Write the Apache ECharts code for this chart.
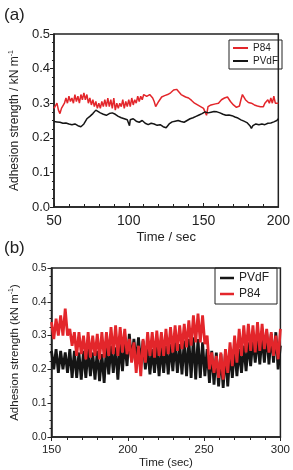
<!DOCTYPE html>
<html><head><meta charset="utf-8">
<script src="https://cdn.jsdelivr.net/npm/echarts@6/dist/echarts.min.js"></script>
<style>html,body{margin:0;padding:0;background:#fff}#c{width:293px;height:470px}</style>
</head><body><div id="c"></div>
<script>
// ---- Panel (a): time (s) and adhesion strength (kN/m) ----
var p84A = [[50,0.285],[51,0.29],[52,0.30],[53,0.28],[54,0.27],[55,0.285],[56,0.28],[57,0.30],[58,0.315],[59,0.30],
[60,0.32],[61,0.305],[62,0.315],[63,0.30],[64,0.325],[65,0.305],[66,0.32],[67,0.30],[68,0.325],[69,0.31],
[70,0.33],[71,0.31],[72,0.325],[73,0.30],[74,0.315],[75,0.295],[76,0.31],[77,0.29],[78,0.305],[79,0.285],
[80,0.30],[81,0.285],[82,0.305],[83,0.29],[84,0.31],[85,0.29],[86,0.315],[87,0.29],[88,0.31],[89,0.285],
[90,0.315],[91,0.28],[92,0.30],[93,0.285],[94,0.30],[95,0.29],[96,0.31],[97,0.285],[98,0.305],[99,0.29],
[100,0.31],[101,0.29],[102,0.315],[103,0.295],[104,0.31],[105,0.30],[106,0.32],[107,0.305],[108,0.32],[109,0.31],
[110,0.325],[112,0.32],[114,0.325],[116,0.315],[117,0.305],[118,0.29],[119,0.292],[120,0.305],[122,0.318],[124,0.322],
[126,0.325],[128,0.33],[130,0.338],[132,0.34],[133,0.335],[135,0.325],[136,0.33],[138,0.318],[140,0.315],[142,0.308],
[144,0.30],[146,0.295],[148,0.29],[150,0.285],[151,0.275],[152,0.265],[153,0.29],[155,0.295],[158,0.298],[160,0.30],
[162,0.31],[164,0.315],[165,0.32],[166,0.318],[168,0.305],[170,0.295],[172,0.288],[174,0.292],[175,0.31],[176,0.325],
[177,0.322],[178,0.31],[180,0.302],[182,0.30],[184,0.295],[186,0.292],[188,0.29],[190,0.29],[191,0.30],[192,0.295],
[193,0.31],[194,0.30],[195,0.315],[196,0.30],[197,0.32],[198,0.30],[199,0.305],[200,0.30]];
var pvdfA = [[50,0.247],[52,0.246],[54,0.245],[56,0.242],[58,0.243],[60,0.240],[62,0.238],[64,0.240],[66,0.235],[68,0.232],
[70,0.240],[72,0.255],[74,0.262],[76,0.270],[78,0.280],[79,0.276],[81,0.272],[83,0.268],[85,0.265],[87,0.270],
[89,0.272],[91,0.268],[93,0.262],[95,0.258],[97,0.255],[99,0.252],[100,0.250],[100.5,0.235],[101,0.252],[103,0.255],
[105,0.248],[107,0.245],[109,0.250],[111,0.242],[113,0.238],[115,0.242],[117,0.240],[119,0.236],[121,0.238],[123,0.232],
[125,0.229],[127,0.240],[129,0.246],[131,0.248],[133,0.250],[135,0.247],[137,0.245],[139,0.250],[141,0.255],[143,0.258],
[145,0.262],[147,0.266],[149,0.270],[150,0.265],[151,0.275],[153,0.272],[155,0.274],[157,0.276],[159,0.275],[161,0.272],
[163,0.268],[165,0.265],[167,0.266],[169,0.264],[171,0.260],[173,0.257],[175,0.252],[177,0.248],[179,0.244],[181,0.235],
[182,0.227],[183,0.235],[185,0.240],[187,0.238],[189,0.240],[191,0.238],[193,0.242],[195,0.243],[197,0.246],[199,0.250],[200,0.255]];

// ---- Panel (b) ----
var pvdfB = [[150,0.255],[151.5,0.20],[153,0.26],[154.5,0.19],[156,0.255],[157.5,0.20],[159,0.25],[160.5,0.19],
[162,0.26],[163.5,0.175],[165,0.255],[166.5,0.175],[168,0.25],[169.5,0.17],[171,0.255],[172.5,0.175],[174,0.26],[175.5,0.18],
[177,0.25],[178.5,0.17],[180,0.255],[181.5,0.165],[183,0.245],[184.5,0.16],[186,0.265],[187.5,0.185],[189,0.27],[190.5,0.19],
[192,0.265],[193.5,0.17],[195,0.275],[196.5,0.195],[198,0.28],[199.5,0.21],[201,0.305],[202.5,0.225],[204,0.29],[205.5,0.22],
[207,0.295],[208.5,0.215],[210,0.285],[211.5,0.20],[213,0.265],[214.5,0.185],[216,0.26],[217.5,0.19],[219,0.27],[220.5,0.18],
[222,0.265],[223.5,0.19],[225,0.27],[226.5,0.185],[228,0.275],[229.5,0.195],[231,0.28],[232.5,0.19],[234,0.275],[235.5,0.185],
[237,0.285],[238.5,0.18],[240,0.29],[241.5,0.175],[243,0.295],[244.5,0.17],[246,0.29],[247.5,0.175],[249,0.28],[250.5,0.18],
[252,0.26],[253.5,0.16],[255,0.255],[256.5,0.155],[258,0.25],[259.5,0.15],[261,0.245],[262.5,0.145],[264,0.25],[265.5,0.15],
[267,0.255],[268.5,0.175],[270,0.265],[271.5,0.18],[273,0.26],[274.5,0.19],[276,0.27],[277.5,0.195],[279,0.28],[280.5,0.21],
[282,0.29],[283.5,0.22],[285,0.295],[286.5,0.215],[288,0.30],[289.5,0.22],[291,0.31],[292.5,0.215],[294,0.305],[295.5,0.22],
[297,0.31],[298.5,0.20],[300,0.27]];
var p84B = [[150,0.34],[151.5,0.29],[153,0.35],[154.5,0.30],[156,0.36],[157.5,0.30],[159,0.38],[160.5,0.30],
[162,0.32],[163.5,0.27],[165,0.31],[166.5,0.24],[168,0.31],[169.5,0.245],[171,0.30],[172.5,0.23],[174,0.31],[175.5,0.235],
[177,0.30],[178.5,0.24],[180,0.305],[181.5,0.23],[183,0.31],[184.5,0.235],[186,0.31],[187.5,0.24],[189,0.325],[190.5,0.245],
[192,0.33],[193.5,0.24],[195,0.325],[196.5,0.25],[198,0.32],[199.5,0.245],[201,0.29],[202.5,0.22],[204,0.28],[205.5,0.19],
[207,0.27],[208.5,0.18],[210,0.29],[211.5,0.22],[213,0.31],[214.5,0.24],[216,0.31],[217.5,0.235],[219,0.315],[220.5,0.24],
[222,0.31],[223.5,0.24],[225,0.32],[226.5,0.245],[228,0.325],[229.5,0.25],[231,0.33],[232.5,0.255],[234,0.33],[235.5,0.26],
[237,0.335],[238.5,0.265],[240,0.345],[241.5,0.27],[243,0.36],[244.5,0.28],[246,0.365],[247.5,0.28],[249,0.36],[250.5,0.275],
[252,0.30],[253.5,0.20],[255,0.25],[256.5,0.19],[258,0.24],[259.5,0.175],[261,0.25],[262.5,0.17],[264,0.26],[265.5,0.19],
[267,0.28],[268.5,0.21],[270,0.30],[271.5,0.22],[273,0.32],[274.5,0.24],[276,0.33],[277.5,0.25],[279,0.335],[280.5,0.255],
[282,0.33],[283.5,0.25],[285,0.34],[286.5,0.255],[288,0.335],[289.5,0.26],[291,0.32],[292.5,0.25],[294,0.31],[295.5,0.24],
[297,0.30],[298.5,0.23],[300,0.32]];

var xTicksA = [50, 100, 150, 200];
var xTicksB = [150, 200, 250, 300];
var yTicks = [0.0, 0.1, 0.2, 0.3, 0.4, 0.5];

var RED = '#e3262b', BLACK = '#151515', AX = '#222';
var FONT = 'Liberation Sans, Arial, sans-serif';

var chart = echarts.init(document.getElementById('c'), null, {renderer: 'canvas'});
function yAxisCfg(idx, fs, nfs, nameText, gap, marg) {
  return {
    type: 'value', gridIndex: idx, min: yTicks[0], max: yTicks[yTicks.length - 1], interval: 0.1,
    name: nameText, nameLocation: 'middle', nameGap: gap, nameRotate: 90,
    nameTextStyle: {fontFamily: FONT, fontSize: nfs, color: AX,
      rich: {n: {fontFamily: FONT, fontSize: nfs, color: AX},
             s: {fontFamily: FONT, fontSize: 7, color: AX, padding: [0, 0, 7, 0]}}},
    axisLine: {show: true, lineStyle: {color: AX, width: 1.5}},
    axisTick: {show: true, inside: false, length: 4, lineStyle: {color: AX, width: 1}},
    minorTick: {show: true, splitNumber: 4, length: 2, lineStyle: {color: AX}},
    splitLine: {show: false},
    axisLabel: {fontFamily: FONT, fontSize: fs, color: AX, margin: marg,
      formatter: function (v) { return v.toFixed(1); }}
  };
}
function xAxisCfg(idx, ticks, fs, nfs, nameText, gap, inside) {
  return {
    type: 'value', gridIndex: idx, min: ticks[0], max: ticks[ticks.length - 1], interval: ticks[1] - ticks[0],
    name: nameText, nameLocation: 'middle', nameGap: gap,
    nameTextStyle: {fontFamily: FONT, fontSize: nfs, color: AX},
    axisLine: {show: true, lineStyle: {color: AX, width: 1.5}},
    axisTick: {show: true, inside: inside, length: 4, lineStyle: {color: AX}},
    minorTick: {show: true, splitNumber: 5, length: 3, lineStyle: {color: AX}},
    splitLine: {show: false},
    axisLabel: {fontFamily: FONT, fontSize: fs, color: AX, margin: 7}
  };
}
var option = {
  animation: false,
  backgroundColor: '#fff',
  title: [
    {text: '(a)', left: -1, top: 2, textStyle: {fontFamily: FONT, fontSize: 17, fontWeight: 'normal', color: AX}},
    {text: '(b)', left: -1, top: 235, textStyle: {fontFamily: FONT, fontSize: 17, fontWeight: 'normal', color: AX}}
  ],
  grid: [
    {left: 44, top: 34, width: 239, height: 173, show: true, borderColor: AX, borderWidth: 1.5, backgroundColor: 'transparent'},
    {left: 41, top: 268, width: 242, height: 170, show: true, borderColor: AX, borderWidth: 1.5, backgroundColor: 'transparent'}
  ],
  xAxis: [
    xAxisCfg(0, xTicksA, 14, 13, 'Time / sec', 24, true),
    xAxisCfg(1, xTicksB, 11.5, 11.5, 'Time (sec)', 20, false)
  ],
  yAxis: [
    yAxisCfg(0, 13, 12, '{n|Adhesion strength / kN m}{s|-1}', 30, 4),
    yAxisCfg(1, 10.5, 11.5, '{n|Adhesion strength (kN m}{s|-1}{n|)}', 26, 5)
  ],
  legend: [
    {left: 229, top: 40, orient: 'vertical', data: ['P84', 'PVdF'], padding: [3, 4, 3, 4], itemGap: 3,
     borderColor: AX, borderWidth: 1, icon: 'rect', itemWidth: 15, itemHeight: 2, selectedMode: false,
     textStyle: {fontFamily: FONT, fontSize: 10, color: AX}},
    {left: 215, top: 268, orient: 'vertical', data: ['PVdF', 'P84'], padding: [4, 8, 4, 5], itemGap: 4,
     borderColor: AX, borderWidth: 1, icon: 'rect', itemWidth: 14, itemHeight: 2.5, selectedMode: false,
     textStyle: {fontFamily: FONT, fontSize: 12, color: AX}}
  ],
  series: [
    {name: 'P84', type: 'line', xAxisIndex: 0, yAxisIndex: 0, data: p84A, showSymbol: false, color: RED,
     lineStyle: {color: RED, width: 1.5}},
    {name: 'PVdF', type: 'line', xAxisIndex: 0, yAxisIndex: 0, data: pvdfA, showSymbol: false, color: BLACK,
     lineStyle: {color: BLACK, width: 1.5}},
    {name: 'PVdF', type: 'line', xAxisIndex: 1, yAxisIndex: 1, data: pvdfB, showSymbol: false, color: BLACK,
     lineStyle: {color: BLACK, width: 2.8}},
    {name: 'P84', type: 'line', xAxisIndex: 1, yAxisIndex: 1, data: p84B, showSymbol: false, color: RED,
     lineStyle: {color: RED, width: 2.8}}
  ]
};
chart.setOption(option);
</script></body></html>
